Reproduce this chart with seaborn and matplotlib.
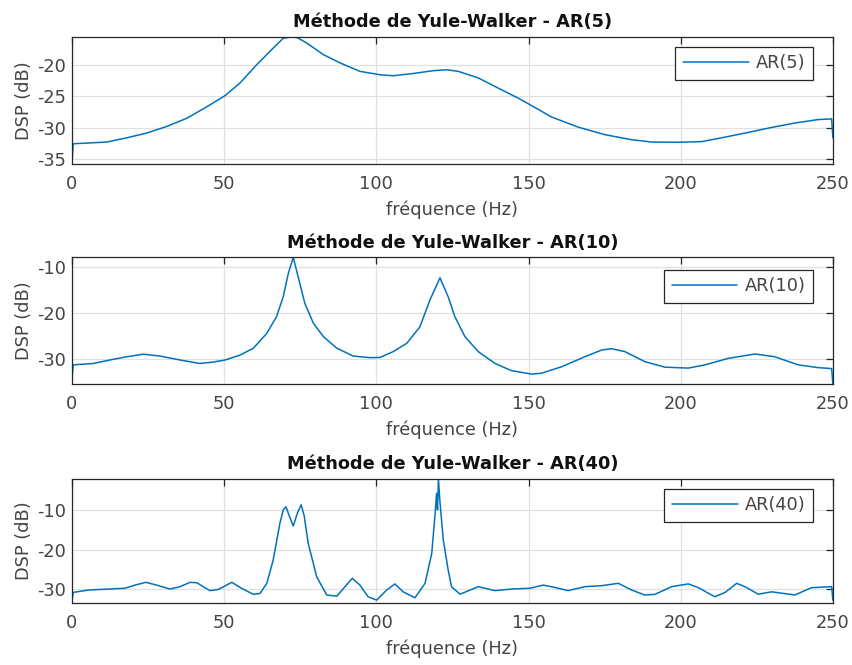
import numpy as np
import pandas as pd
import matplotlib
matplotlib.use("Agg")
import matplotlib.pyplot as plt
import seaborn as sns

# ---- data ----
f_ar5 = [0, 0.4, 11.4, 18, 24.5, 31.1, 37.7, 44.2, 50.3, 55.2, 60.7, 65, 69.4, 72, 74, 77.1,
         82.6, 88, 94.6, 101.2, 105.5, 112, 118.7, 123.1, 126.9, 133.5, 140, 146.6, 150.5,
         157.6, 166.3, 175.1, 183.9, 190.4, 199.2, 206.9, 213.4, 221.1, 229.9, 237.5, 245.2,
         249.6, 250]
dsp_ar5 = [-35.7, -32.54, -32.27, -31.6, -30.85, -29.8, -28.5, -26.7, -24.9, -22.9, -20.0,
           -17.9, -15.8, -15.6, -15.7, -16.55, -18.4, -19.7, -21.05, -21.6, -21.75, -21.4,
           -20.95, -20.8, -21.05, -22.1, -23.7, -25.3, -26.35, -28.3, -29.9, -31.1, -31.9,
           -32.27, -32.3, -32.2, -31.6, -30.85, -29.95, -29.25, -28.7, -28.6, -31.6]

f_ar10 = [0, 0.4, 7, 13.6, 18, 23.4, 28.9, 35.5, 42, 46.4, 50.3, 55.2, 59.6, 64, 67.2, 69.4,
          71.1, 72.7, 74.3, 76.5, 79.3, 82.6, 87, 92.4, 97.9, 101.2, 105.5, 110, 114.3, 117.6,
          120.9, 123.6, 125.8, 129.1, 133.5, 139, 144.4, 151, 154.3, 160.9, 168.5, 174, 177.3,
          181.7, 188.2, 194.8, 202.5, 208, 215.6, 224.4, 230.9, 238.6, 245.2, 249.6, 250]
dsp_ar10 = [-34.1, -31.2, -30.9, -30.0, -29.45, -28.9, -29.3, -30.15, -30.9, -30.6, -30.15,
            -29.1, -27.6, -24.4, -20.8, -16.5, -11.4, -7.97, -12.2, -17.9, -22.2, -25.1, -27.6,
            -29.3, -29.65, -29.6, -28.35, -26.55, -23.0, -17.2, -12.4, -16.5, -20.8, -25.1,
            -28.35, -30.9, -32.45, -33.2, -33.0, -31.6, -29.45, -28.0, -27.7, -28.35, -30.5,
            -31.7, -31.9, -31.2, -29.8, -28.85, -29.45, -31.2, -31.8, -32.0, -35.3]

f_ar40 = [0, 0.4, 5.4, 12, 17.4, 20.7, 24.3, 27.8, 32.2, 35.5, 38.8, 41, 45.3, 48.1, 52.5,
          55.7, 59.6, 61.8, 64, 66.1, 68.3, 69.4, 70.3, 71.4, 72.7, 74.2, 75.3, 76.3, 77.6,
          80.4, 83.7, 87, 89.7, 92.1,
          94.6, 97.3, 100.1, 103.4, 106.1, 108.8, 112.7, 116, 118.2, 119.3, 119.8, 120.1,
          120.4, 120.9, 122, 123.6, 124.7, 127.5, 133.5, 139, 144.4, 150.5, 154.8, 158.7, 163,
          168.5, 174, 179.5, 183.9, 188.2, 191.5, 197, 202.5, 205.7, 211.2, 214.5, 218.4,
          221.1, 225.5, 229.9, 237.5, 243, 249.6, 250]
dsp_ar40 = [-33.0, -30.85, -30.25, -30.0, -29.8, -29.0, -28.3, -29.0, -30.0, -29.4, -28.3,
            -28.4, -30.4, -30.1, -28.3, -29.8, -31.35, -31.1, -28.55, -22.7, -13.4, -10.0,
            -9.2, -11.5, -14.05, -10.5, -8.7, -11.5, -18.4, -26.9, -31.5, -31.8, -29.4, -27.3,
            -29.0, -31.95, -32.8,
            -30.25, -28.7, -30.7, -32.2, -28.55, -21.0, -11.0, -5.8, -10.0, -2.15, -8.0,
            -17.6, -25.2, -29.4, -31.3, -29.4, -30.4, -30.0, -29.8, -29.0, -29.6, -30.4,
            -29.4, -29.15, -28.55, -30.25, -31.5, -31.35, -29.4, -28.7, -29.6, -31.95, -30.9,
            -28.55, -29.4, -31.3, -30.7, -31.5, -29.65, -29.4, -32.8]

orders = ["AR(5)", "AR(10)", "AR(40)"]
freqs = [f_ar5, f_ar10, f_ar40]
dsps = [dsp_ar5, dsp_ar10, dsp_ar40]
ylims = [(-35.75, -15.6), (-35.4, -7.97), (-33.6, -2.15)]
yticks = [[-35, -30, -25, -20], [-30, -20, -10], [-30, -20, -10]]
xticks = [0, 50, 100, 150, 200, 250]

# ---- style ----
sns.set_theme(style="white")
plt.rcParams['font.family'] = ['DejaVu Sans']
plt.rcParams['axes.unicode_minus'] = False

LINE = "#0072BD"
AXC = "#262626"
TXT = "#444444"
FS = 12.8

fig = plt.figure(figsize=(8.53, 6.65), dpi=100)
positions = [[0.0844, 0.7534, 0.892, 0.191],
             [0.0844, 0.4221, 0.892, 0.191],
             [0.0844, 0.0928, 0.892, 0.187]]
leg_anchor = [(0.9737, 0.921), (0.9737, 0.90), (0.9737, 0.92)]

for i in range(3):
    ax = fig.add_axes(positions[i])
    df = pd.DataFrame({"f": freqs[i], "dsp": dsps[i]})
    sns.lineplot(data=df, x="f", y="dsp", ax=ax, color=LINE, linewidth=1.1,
                 label=orders[i], sort=False, estimator=None)
    ax.set_xlim(0, 250)
    ax.set_ylim(*ylims[i])
    ax.set_xticks(xticks)
    ax.set_yticks(yticks[i])
    ax.grid(True, color="#e0e0e0", linewidth=0.9)
    ax.set_axisbelow(True)
    for s in ax.spines.values():
        s.set_color(AXC)
        s.set_linewidth(0.9)
    ax.tick_params(direction="in", length=5, width=0.9, color=AXC,
                   top=True, right=True, labelsize=FS, labelcolor=TXT)
    ax.tick_params(axis="x", pad=8)
    ax.tick_params(axis="y", pad=4)
    ax.set_xlabel("fréquence (Hz)", fontsize=FS, color=TXT, labelpad=5)
    ax.set_ylabel("DSP (dB)", fontsize=FS, color=TXT, labelpad=3.5)
    ax.set_title(f"Méthode de Yule-Walker - {orders[i]}", fontsize=FS,
                 fontweight="bold", color="#111111", pad=7)
    leg = ax.legend(loc="upper right", bbox_to_anchor=leg_anchor[i], borderaxespad=0,
                    fontsize=FS, frameon=True, fancybox=False, framealpha=1,
                    handlelength=3.7, borderpad=0.42, handletextpad=0.4)
    leg.get_frame().set_edgecolor(AXC)
    leg.get_frame().set_linewidth(0.9)
    for t in leg.get_texts():
        t.set_color(TXT)

fig.savefig("out.png", dpi=100)
